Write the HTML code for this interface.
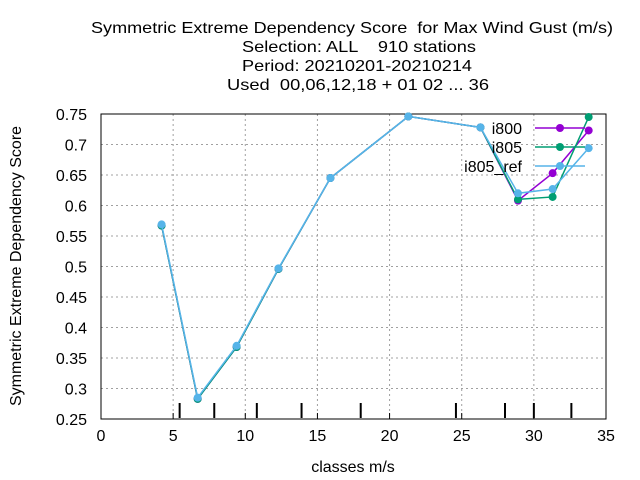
<!DOCTYPE html>
<html><head><meta charset="utf-8"><style>
body{margin:0;background:#fff;}
svg{display:block;font-family:"Liberation Sans",sans-serif;}
text{white-space:pre;}
</style></head><body>
<svg id="chart" width="640" height="480">
<g font-size="16" text-anchor="middle" fill="#000">
<text x="352" y="33" textLength="522" lengthAdjust="spacingAndGlyphs" xml:space="preserve">Symmetric Extreme Dependency Score  for Max Wind Gust (m/s)</text>
<text x="359" y="52" textLength="234" lengthAdjust="spacingAndGlyphs" xml:space="preserve">Selection: ALL    910 stations</text>
<text x="357" y="71" textLength="230" lengthAdjust="spacingAndGlyphs">Period: 20210201-20210214</text>
<text x="358" y="90" textLength="262" lengthAdjust="spacingAndGlyphs" xml:space="preserve">Used  00,06,12,18 + 01 02 ... 36</text>
</g>
<g id="grid"></g>
<g id="axes"></g>
<g id="series"></g>
<text x="353" y="472" font-size="16" text-anchor="middle">classes m/s</text>
<text transform="translate(21,266) rotate(-90)" font-size="16" text-anchor="middle">Symmetric Extreme Dependency Score</text>
<g id="legend"></g>
</svg>
<script>
const xTicks=[0,5,10,15,20,25,30,35];
const yTicks=[0.25,0.3,0.35,0.4,0.45,0.5,0.55,0.6,0.65,0.7,0.75];
const yTickLabels=["0.25","0.3","0.35","0.4","0.45","0.5","0.55","0.6","0.65","0.7","0.75"];
const classBounds=[5.45,7.85,10.8,13.9,18.0,24.6,28.0,30.0,32.6];
const xVals=[4.2,6.7,9.4,12.3,15.9,21.3,26.3,28.9,31.3,33.8];
const i800=[0.567,0.283,0.368,0.496,0.645,0.746,0.728,0.608,0.653,0.723];
const i805=[0.567,0.283,0.368,0.496,0.645,0.746,0.728,0.610,0.614,0.745];
const i805ref=[0.569,0.285,0.370,0.497,0.645,0.746,0.728,0.620,0.627,0.694];
const seriesNames=["i800","i805","i805_ref"];
const L=101,R=606,T=114,B=419;
const X=v=>L+(v-0)/35*(R-L);
const Y=v=>B-(v-0.25)/0.5*(B-T);
const NS="http://www.w3.org/2000/svg";
function mk(tag,attrs,parent){const e=document.createElementNS(NS,tag);for(const k in attrs)e.setAttribute(k,attrs[k]);parent.appendChild(e);return e;}
const grid=document.getElementById('grid'),axes=document.getElementById('axes'),ser=document.getElementById('series'),leg=document.getElementById('legend');
xTicks.forEach(t=>{
 if(t>0&&t<35){const g=mk('line',{x1:X(t),x2:X(t),y1:T,y2:B,stroke:'#a0a0a0','stroke-dasharray':'2,3'},grid);
 }
 const tx=mk('text',{x:X(t),y:B+22,'font-size':16,'text-anchor':'middle'},axes);tx.textContent=t;
 
 const tk=mk('line',{x1:X(t),x2:X(t),y1:B,y2:B-6,stroke:'#000'},axes);
 
});
yTicks.forEach((t,i)=>{
 if(i>0&&i<yTicks.length-1){const g=mk('line',{x1:L,x2:R,y1:Y(t),y2:Y(t),stroke:'#a0a0a0','stroke-dasharray':'2,3'},grid);
 }
 const tx=mk('text',{x:L-14,y:Y(t)+6,'font-size':16,'text-anchor':'end'},axes);tx.textContent=yTickLabels[i];
 
});
classBounds.forEach(c=>{const l=mk('line',{x1:X(c),x2:X(c),y1:B-1,y2:B-16,stroke:'#000','stroke-width':2},axes);
 });
const fr=mk('rect',{x:L,y:T,width:R-L,height:B-T,fill:'none',stroke:'#000'},axes);

const data=[i800,i805,i805ref],cols=['#9400d3','#009e73','#56b4e9'];
data.forEach((d,si)=>{
 const g=mk('g',{},ser);
 
 const p=mk('polyline',{points:d.map((v,i)=>X(xVals[i])+','+Y(v)).join(' '),fill:'none',stroke:cols[si],'stroke-width':1.5},g);
 
 d.forEach((v,i)=>{const c=mk('circle',{cx:X(xVals[i]),cy:Y(v),r:4,fill:cols[si]},g);
  });
});
seriesNames.forEach((n,i)=>{
 const y=128+i*19;
 const g=mk('g',{},leg);
 
 const t=mk('text',{x:522,y:y+6,'font-size':16,'text-anchor':'end'},g);t.textContent=n;
 mk('line',{x1:535,x2:585,y1:y,y2:y,stroke:cols[i],'stroke-width':1.5},g);
 mk('circle',{cx:560,cy:y,r:4,fill:cols[i]},g);
});
</script>
</body></html>
